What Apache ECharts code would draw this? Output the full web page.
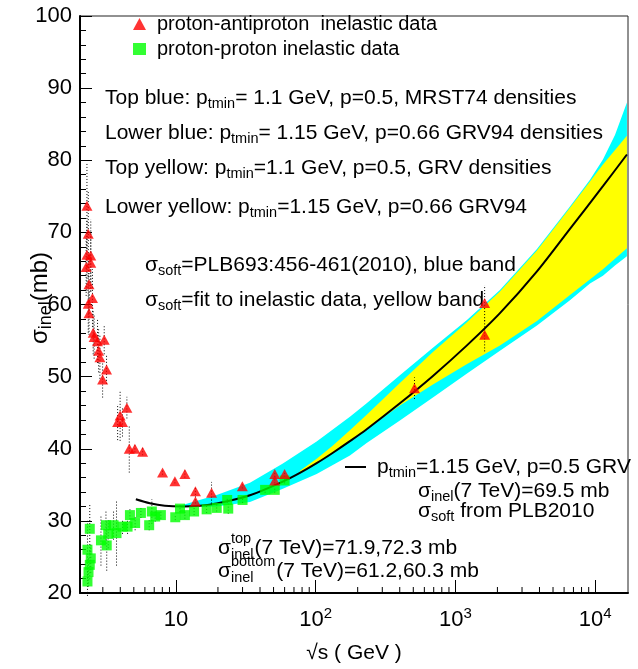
<!DOCTYPE html>
<html>
<head>
<meta charset="utf-8">
<script src="https://cdn.jsdelivr.net/npm/echarts@6/dist/echarts.min.js"></script>
<style>
    html, body { margin: 0; padding: 0; background: #fff; }
    #main { width: 638px; height: 669px; }
</style>
</head>
<body>
<div id="main"></div>
<script>
// 数据: p-pbar 非弹性截面 (sqrt s, sigma, 误差)
const pbarX   = [2.31, 2.36, 2.31, 2.46, 2.46, 2.28, 2.39, 2.53, 2.36, 2.39, 2.56, 2.60, 2.75, 3.07, 2.80, 2.86, 3.19, 2.99,
                 3.83, 3.99, 4.15, 4.46, 4.64, 5.09, 5.78, 8.03, 9.84, 11.6, 13.8, 13.8, 18.0, 29.9, 51, 51, 60, 510, 1620, 1620];
const pbarY   = [73.7, 69.8, 66.9, 66.8, 65.8, 65.2, 62.8, 60.9, 60.1, 58.8, 56.1, 55.5, 54.9, 55.1, 53.6, 52.7, 51.0, 49.6,
                 43.7, 44.6, 43.7, 45.7, 40.0, 40.0, 39.6, 36.7, 35.5, 36.5, 34.1, 32.7, 33.9, 34.8, 36.5, 35.6, 36.5, 48.4, 60.2, 55.8];
const pbarErr = [6, 6, 5, 5, 4, 4, 4, 4, 4, 3, 3, 3, 3, 2, 3, 3, 2, 2.5,
                 2.5, 3.5, 2, 1.5, 3.3, 0.5, 0.5, 0.3, 0.3, 0.5, 0.5, 0.7, 1.5, 0.3, 0.4, 0.4, 0.4, 1.5, 2.5, 2.3];

// 数据: p-p 非弹性截面
const ppX   = [2.42, 2.33, 2.46, 2.42, 2.37, 2.33, 2.91, 3.2, 3.16, 3.28, 3.58, 3.76, 4.15, 4.51, 4.69, 5.11, 5.62,
               6.44, 6.73, 7.11, 7.81, 9.9, 10.7, 11.6, 13.5, 16.6, 19.6, 23.3, 23.7, 30, 43.5, 51, 60];
const ppY   = [28.9, 26.0, 24.8, 23.9, 22.9, 21.6, 27.3, 26.6, 29.4, 28.2, 29.4, 28.3, 29.2, 29.2, 30.8, 29.7, 31.1,
               29.4, 31.3, 30.6, 30.8, 30.5, 31.7, 30.8, 31.3, 31.6, 31.8, 32.9, 31.7, 32.9, 34.3, 34.3, 35.6];
const ppErr = [3.5, 4, 2, 2, 2, 2, 3.5, 3.5, 2, 2, 2, 4.5, 1, 1, 1, 1, 0.7,
               0.7, 1.7, 0.7, 0.5, 0.4, 0.5, 0.5, 0.5, 0.5, 0.5, 0.4, 0.7, 0.4, 0.4, 0.4, 0.4];

// 黑色曲线 ptmin=1.15 GeV, p=0.5 GRV
const curveX = [5.17, 6.51, 8.34, 11.2, 14.85, 19.6, 33.9, 58.3, 77.2, 101.7, 133, 176, 232, 401, 691, 1205, 2085, 3837, 6610, 11380, 16900];
const curveY = [33.0, 32.45, 32.1, 32.0, 32.1, 32.4, 33.55, 35.45, 36.65, 38.0, 39.45, 41.05, 42.7, 46.3, 50.1, 54.3, 58.8, 64.6, 70.5, 76.4, 80.8];

// 蓝色带
const blueX      = [10.68, 19.6, 33.9, 58.3, 101.7, 176, 232, 401, 691, 1205, 2085, 3837, 6610, 9190, 11380, 13880, 16900];
const blueTop    = [32.1, 33.6, 35.3, 37.95, 41.0, 44.45, 46.3, 50.2, 54.0, 57.8, 62.0, 67.7, 73.6, 77.3, 80.1, 83.5, 88.0];
const blueBottom = [31.9, 32.0, 32.6, 34.45, 36.5, 39.05, 40.8, 43.9, 47.1, 50.4, 53.6, 57.1, 60.6, 62.9, 64.0, 65.4, 66.7];

// 黄色带
const yellowX      = [77.2, 101.7, 133, 176, 232, 401, 691, 1205, 2085, 3837, 6610, 11380, 16900];
const yellowTop    = [36.95, 38.6, 40.45, 42.55, 44.7, 49.1, 53.4, 57.5, 61.8, 67.5, 73.4, 79.4, 83.4];
const yellowBottom = [36.65, 38.0, 39.45, 41.05, 42.7, 46.0, 48.9, 51.7, 54.3, 57.7, 61.3, 64.9, 67.8];

// 坐标轴刻度
const xMajorTicks = [10, 100, 1000, 10000];
const xMinorTicks = [];
xMajorTicks.concat([1]).forEach(d => {
    for (let k = 2; k <= 9; k++) {
        if (k * d > 2.06 && k * d < 17200) xMinorTicks.push(k * d);
    }
});

const FONT = 'Liberation Sans';
const RICH = {
    a: { fontSize: 21, lineHeight: 26, fontFamily: FONT, fill: '#000' },
    s: { fontSize: 14.5, verticalAlign: 'bottom', fontFamily: FONT, fill: '#000' },
    p: { fontSize: 14.5, fontFamily: FONT, fill: '#000' },
    t: { fontSize: 24, lineHeight: 31, fontFamily: FONT, fill: '#000' },
    ts: { fontSize: 18, verticalAlign: 'bottom', fontFamily: FONT, fill: '#000' }
};

// 测量文字宽度
const measureCtx = document.createElement('canvas').getContext('2d');
function textWidth(str, size) {
    measureCtx.font = size + 'px "' + FONT + '"';
    return measureCtx.measureText(str).width;
}

// 注释文字
function note(x, yc, text) {
    return { type: 'text', x: x, y: yc - 13, silent: true, style: { text: text, rich: RICH } };
}

// sigma 上下标叠放
function stacked(x, yc, sup, sub, rest) {
    let x2 = x + textWidth('σ', 21);
    let x3 = x2 + Math.max(textWidth(sup, 14.5), textWidth(sub, 14.5)) + 1;
    return [
        note(x, yc, '{a|σ}'),
        { type: 'text', x: x2, y: yc - 17, silent: true, style: { text: '{p|' + sup + '}', rich: RICH } },
        { type: 'text', x: x2, y: yc - 1, silent: true, style: { text: '{p|' + sub + '}', rich: RICH } },
        note(x3, yc, '{a|' + rest + '}')
    ];
}

// 误差棒 (点线)
function errorBars(xs, ys, errs) {
    return {
        type: 'custom', silent: true, z: 4,
        data: xs.map((x, i) => [x, ys[i] - errs[i], ys[i] + errs[i]]),
        encode: { x: 0, y: [1, 2] },
        renderItem: function (params, api) {
            let lo = api.coord([api.value(0), api.value(1)]);
            let hi = api.coord([api.value(0), api.value(2)]);
            return {
                type: 'line',
                shape: { x1: lo[0], y1: lo[1], x2: hi[0], y2: hi[1] },
                style: { stroke: '#000', lineWidth: 1, lineDash: [1, 2] }
            };
        }
    };
}

// 色带 (多边形)
function band(xs, top, bottom, color, z) {
    return {
        type: 'custom', silent: true, z: z, clip: true,
        data: xs.map((x, i) => [x, bottom[i], top[i]]),
        encode: { x: 0, y: [1, 2] },
        renderItem: function (params, api) {
            if (params.dataIndex !== 0) return null;
            let pts = [];
            xs.forEach((x, i) => pts.push(api.coord([x, top[i]])));
            for (let i = xs.length - 1; i >= 0; i--) pts.push(api.coord([xs[i], bottom[i]]));
            return { type: 'polygon', shape: { points: pts }, style: { fill: color } };
        }
    };
}

let chart = echarts.init(document.getElementById('main'));

let graphics = [
    note(105, 98, '{a|Top blue: p}{s|tmin}{a|= 1.1 GeV, p=0.5, MRST74 densities}'),
    note(105, 133, '{a|Lower blue: p}{s|tmin}{a|= 1.15 GeV, p=0.66 GRV94 densities}'),
    note(105, 168, '{a|Top yellow: p}{s|tmin}{a|=1.1 GeV, p=0.5, GRV densities}'),
    note(105, 207, '{a|Lower yellow: p}{s|tmin}{a|=1.15 GeV, p=0.66 GRV94}'),
    note(145, 265, '{a|σ}{s|soft}{a|=PLB693:456-461(2010), blue band}'),
    note(145, 300, '{a|σ}{s|soft}{a|=fit to inelastic data, yellow band}'),
    { type: 'line', silent: true, shape: { x1: 345, y1: 467, x2: 366, y2: 467 }, style: { stroke: '#000', lineWidth: 2 } },
    note(377, 467, '{a|p}{s|tmin}{a|=1.15 GeV, p=0.5 GRV}'),
    note(418, 491, '{a|σ}{s|inel}{a|(7 TeV)=69.5 mb}'),
    note(418, 511, '{a|σ}{s|soft}{a| from PLB2010}'),
    // y 轴标题
    {
        type: 'text', x: 40, y: 298, rotation: Math.PI / 2, silent: true,
        style: { text: '{t|σ}{ts|inel}{t|(mb)}', rich: RICH, align: 'center', verticalAlign: 'middle' }
    }
].concat(
    stacked(218, 548, 'top', 'inel', '(7 TeV)=71.9,72.3 mb'),
    stacked(218, 571, 'bottom', 'inel', '(7 TeV)=61.2,60.3 mb')
);

let option = {
    animation: false,
    backgroundColor: '#fff',
    grid: { left: 80, right: 10, top: 16, bottom: 72, show: true, borderColor: '#222', borderWidth: 1 },
    legend: {
        orient: 'vertical', left: 128, top: 9, itemGap: 5,
        itemWidth: 13, itemHeight: 12,
        textStyle: { fontSize: 20, color: '#000', fontFamily: FONT, padding: [0, 0, 0, 6] },
        data: [
            { name: 'proton-antiproton  inelastic data', icon: 'triangle' },
            { name: 'proton-proton inelastic data', icon: 'rect' }
        ]
    },
    xAxis: {
        type: 'log', logBase: 10, min: 2.06, max: 17200,
        axisLine: { onZero: false, lineStyle: { color: '#000', width: 2 } },
        axisTick: { inside: true, length: 13, lineStyle: { color: '#000' } },
        splitLine: { show: false },
        axisLabel: {
            showMinLabel: false, showMaxLabel: false, margin: 13,
            formatter: function (v) {
                let e = Math.round(Math.log10(v));
                return e === 1 ? '{b|10}' : '{b|10}{p|' + e + '}';
            },
            rich: {
                b: { fontSize: 22, lineHeight: 28, color: '#000', fontFamily: FONT },
                p: { fontSize: 15, verticalAlign: 'top', color: '#000', fontFamily: FONT }
            }
        },
        name: '√s ( GeV )', nameLocation: 'middle', nameGap: 50,
        nameTextStyle: { fontSize: 21, color: '#000', fontFamily: FONT }
    },
    yAxis: {
        type: 'value', min: 20, max: 100, interval: 10,
        axisLine: { show: true, lineStyle: { color: '#000', width: 2 } },
        axisTick: { inside: true, length: 12, lineStyle: { color: '#000' } },
        minorTick: { show: true, splitNumber: 5, length: 6, lineStyle: { color: '#000' } },
        splitLine: { show: false },
        axisLabel: { fontSize: 22, color: '#000', fontFamily: FONT, margin: 8 }
    },
    graphic: graphics,
    series: [
        band(blueX, blueTop, blueBottom, '#00ffff', 1),
        band(yellowX, yellowTop, yellowBottom, '#ffff00', 2),
        {
            type: 'line', silent: true, z: 3, smooth: 0.3, showSymbol: false,
            data: curveX.map((x, i) => [x, curveY[i]]),
            lineStyle: { color: '#000', width: 2 }
        },
        errorBars(pbarX, pbarY, pbarErr),
        errorBars(ppX, ppY, ppErr),
        {
            name: 'proton-proton inelastic data', type: 'scatter', z: 5,
            symbol: 'rect', symbolSize: [10, 10],
            itemStyle: { color: '#00ff00' },
            data: ppX.map((x, i) => [x, ppY[i]])
        },
        {
            name: 'proton-antiproton  inelastic data', type: 'scatter', z: 6,
            symbol: 'triangle', symbolSize: [11, 10],
            itemStyle: { color: '#ff0000' },
            data: pbarX.map((x, i) => [x, pbarY[i]])
        },
        {
            // x 轴小刻度
            type: 'custom', silent: true, z: 7,
            data: xMinorTicks.map(v => [v, 20]),
            encode: { x: 0, y: 1 },
            renderItem: function (params, api) {
                let p = api.coord([api.value(0), 20]);
                return { type: 'line', shape: { x1: p[0], y1: p[1], x2: p[0], y2: p[1] - 6 }, style: { stroke: '#000', lineWidth: 1 } };
            }
        }
    ]
};
chart.setOption(option);
</script>
</body>
</html>
